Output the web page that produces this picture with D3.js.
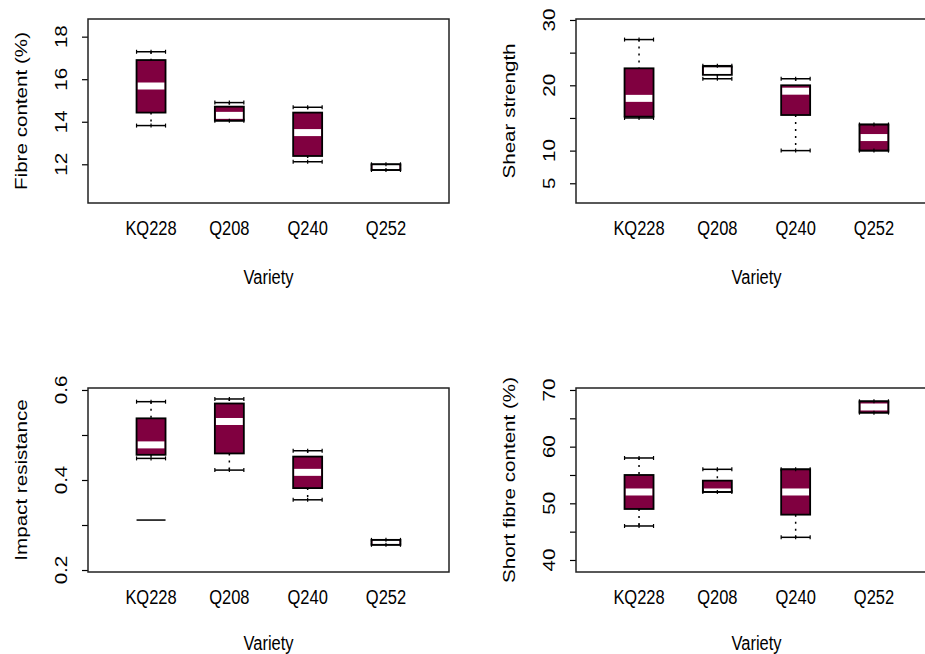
<!DOCTYPE html>
<html>
<head>
<meta charset="utf-8">
<script src="https://cdn.jsdelivr.net/npm/d3@7"></script>
<style>
  body { margin: 0; background: #fff; }
  svg { display: block; }
  text { font-family: "Liberation Sans", Arial, sans-serif; fill: #000; }
</style>
</head>
<body>
<div id="chart"></div>
<script>

var categories = ["KQ228", "Q208", "Q240", "Q252"];

// [lower whisker, q1, median, q3, upper whisker]
var fibreStats = [
  [13.82, 14.43, 15.68, 16.9, 17.29],
  [14.05, 14.05, 14.3, 14.71, 14.9],
  [12.12, 12.39, 13.49, 14.43, 14.68],
  [11.73, 11.73, 11.87, 12.0, 12.0]
];
var shearStats = [
  [15, 15.2, 18, 22.6, 27],
  [21, 21.6, 22.25, 22.9, 23],
  [10, 15.45, 19.1, 20, 21],
  [10, 10, 12, 14, 14]
];
var impactStats = [
  [0.448, 0.456, 0.478, 0.537, 0.574],
  [0.422, 0.459, 0.53, 0.57, 0.58],
  [0.356, 0.382, 0.417, 0.452, 0.465],
  [0.256, 0.256, 0.262, 0.267, 0.267]
];
var impactOutliers = [[0.311], [], [], []];
var shortStats = [
  [46, 49, 52, 55, 58],
  [52, 52, 52, 54, 56],
  [44, 48, 52, 56, 56],
  [66, 66, 67, 68, 68]
];

var fibreTicks = [12, 14, 16, 18];
var fibreLabels = [12, 14, 16, 18];
var shearTicks = [5, 10, 15, 20, 25, 30];
var shearLabels = [5, 10, 20, 30];
var impactTicks = [0.2, 0.3, 0.4, 0.5, 0.6];
var impactLabels = [0.2, 0.4, 0.6];
var shortTicks = [40, 45, 50, 55, 60, 65, 70];
var shortLabels = [40, 50, 60, 70];

var panels = [
  { left: 88, top: 19, stats: fibreStats, outliers: null, domain: [10.18, 18.83],
    ticks: fibreTicks, labels: fibreLabels, title: "Fibre content (%)" },
  { left: 576, top: 19, stats: shearStats, outliers: null, domain: [1.98, 30.15],
    ticks: shearTicks, labels: shearLabels, title: "Shear strength" },
  { left: 88, top: 388, stats: impactStats, outliers: impactOutliers, domain: [0.1956, 0.6044],
    ticks: impactTicks, labels: impactLabels, title: "Impact resistance" },
  { left: 576, top: 388, stats: shortStats, outliers: null, domain: [37.88, 70.35],
    ticks: shortTicks, labels: shortLabels, title: "Short fibre content (%)" }
];

var W = 925, H = 654;
var pw = 361, ph = 184;
var boxHalf = 14.5;
var fill = "#800040";
var fontSize = "16.5px";
// the reference looks stretched vertically, so text gets the same stretch
var stretch = 1.25;

var svg = d3.select("#chart").append("svg")
  .attr("width", W)
  .attr("height", H);

function hText(g, x, y, s) {
  return g.append("text")
    .attr("transform", "translate(" + x + "," + y + ") scale(1," + stretch + ")")
    .attr("text-anchor", "middle")
    .attr("dominant-baseline", "central")
    .style("font-size", fontSize)
    .text(s);
}

function vText(g, x, y, s) {
  return g.append("text")
    .attr("transform", "translate(" + x + "," + y + ") scale(1," + stretch + ") rotate(-90)")
    .attr("text-anchor", "middle")
    .attr("dominant-baseline", "central")
    .style("font-size", fontSize)
    .text(s);
}

panels.forEach(function(p, pi) {

  var g = svg.append("g")
    .attr("transform", "translate(" + p.left + "," + p.top + ")");

  var x = d3.scalePoint().domain(categories).range([0, pw]).padding(0.805);
  var y = d3.scaleLinear().domain(p.domain).range([ph, 0]);

  // y axis ticks, labels drawn separately so some can be skipped like R does
  var yAxis = d3.axisLeft(y).tickValues(p.ticks).tickSize(6).tickFormat("");
  var ax = g.append("g").call(yAxis);
  ax.select(".domain").remove();
  ax.selectAll("line").attr("stroke", "#000").attr("stroke-width", 1.2);

  p.labels.forEach(function(d) {
    vText(g, -27, y(d), d);
  });

  vText(g, -67, ph / 2, p.title);

  // category labels, no tick marks
  categories.forEach(function(c) {
    hText(g, x(c), ph + 25, c);
  });

  //bottom row sits right at the page edge
  hText(g, pw / 2, pi < 2 ? ph + 74 : ph + 71, "Variety");

  var boxes = g.selectAll(".box")
    .data(p.stats)
    .enter()
    .append("g")
    .attr("class", "box")
    .attr("transform", function(d, i) {
      return "translate(" + x(categories[i]) + ",0)";
    });

  // dotted whiskers
  boxes.append("line")
    .attr("y1", function(d) { return y(d[4]); })
    .attr("y2", function(d) { return y(d[3]); })
    .attr("stroke", "#000").attr("stroke-width", 1.5)
    .attr("stroke-dasharray", "2,5");
  boxes.append("line")
    .attr("y1", function(d) { return y(d[1]); })
    .attr("y2", function(d) { return y(d[0]); })
    .attr("stroke", "#000").attr("stroke-width", 1.5)
    .attr("stroke-dasharray", "2,5");

  boxes.append("rect")
    .attr("x", -boxHalf)
    .attr("width", boxHalf * 2)
    .attr("y", function(d) { return y(d[3]); })
    .attr("height", function(d) { return Math.max(y(d[1]) - y(d[3]), 0.5); })
    .attr("fill", fill);

  // median as a thick white band
  boxes.append("rect")
    .attr("x", -boxHalf + 1)
    .attr("width", boxHalf * 2 - 2)
    .attr("y", function(d) { return y(d[2]) - 3.5; })
    .attr("height", 7)
    .attr("fill", "#fff");

  boxes.append("rect")
    .attr("x", -boxHalf)
    .attr("width", boxHalf * 2)
    .attr("y", function(d) { return y(d[3]); })
    .attr("height", function(d) { return Math.max(y(d[1]) - y(d[3]), 0.5); })
    .attr("fill", "none")
    .attr("stroke", "#000")
    .attr("stroke-width", 1.8);

  // staples with small end marks
  [0, 4].forEach(function(k) {
    boxes.append("line")
      .attr("x1", -boxHalf).attr("x2", boxHalf)
      .attr("y1", function(d) { return y(d[k]); })
      .attr("y2", function(d) { return y(d[k]); })
      .attr("stroke", "#000").attr("stroke-width", 1.5);
    [-boxHalf, 0, boxHalf].forEach(function(dx) {
      boxes.append("line")
        .attr("x1", dx).attr("x2", dx)
        .attr("y1", function(d) { return y(d[k]) - 2; })
        .attr("y2", function(d) { return y(d[k]) + 2; })
        .attr("stroke", "#000").attr("stroke-width", 1.2);
    });
  });

  if (p.outliers) {
    boxes.each(function(d, i) {
      d3.select(this).selectAll(".out")
        .data(p.outliers[i])
        .enter()
        .append("line")
        .attr("class", "out")
        .attr("x1", -boxHalf).attr("x2", boxHalf)
        .attr("y1", function(v) { return y(v); })
        .attr("y2", function(v) { return y(v); })
        .attr("stroke", "#000").attr("stroke-width", 1.5);
    });
  }

  g.append("rect")
    .attr("width", pw)
    .attr("height", ph)
    .attr("fill", "none")
    .attr("stroke", "#222")
    .attr("stroke-width", 1.5);

});

</script>
</body>
</html>
